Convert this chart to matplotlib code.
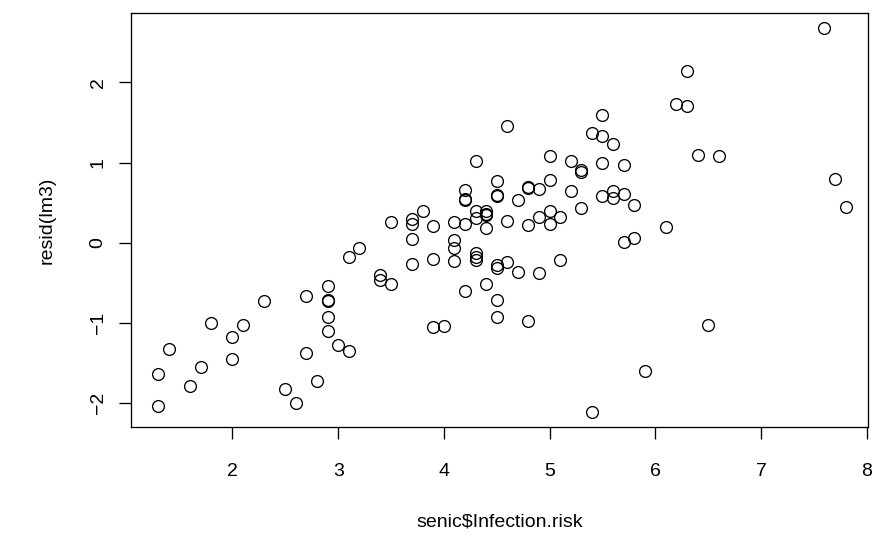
import numpy as np
import matplotlib
matplotlib.use("Agg")
import matplotlib.pyplot as plt

# senic$Infection.risk vs resid(lm3)
infection_risk = [
    1.3, 1.3, 1.4, 1.6, 1.7, 1.8, 2.0, 2.0, 2.1, 2.3,
    2.5, 2.6, 2.7, 2.7, 2.8, 2.9, 2.9, 2.9, 2.9, 2.9,
    3.0, 3.1, 3.1, 3.2, 3.4, 3.4, 3.5, 3.5,
    3.7, 3.7, 3.7, 3.7, 3.8, 3.9, 3.9, 3.9, 4.0,
    4.1, 4.1, 4.1, 4.1, 4.2, 4.2, 4.2, 4.2, 4.2,
    4.3, 4.3, 4.3, 4.3, 4.3, 4.3, 4.4, 4.4, 4.4, 4.4, 4.4,
    4.5, 4.5, 4.5, 4.5, 4.5, 4.5, 4.5, 4.6, 4.6, 4.6, 4.7, 4.7,
    4.8, 4.8, 4.8, 4.8, 4.9, 4.9, 4.9, 5.0, 5.0, 5.0, 5.0,
    5.1, 5.1, 5.2, 5.2, 5.3, 5.3, 5.3, 5.4, 5.4,
    5.5, 5.5, 5.5, 5.5, 5.6, 5.6, 5.6, 5.7, 5.7, 5.7, 5.8, 5.8,
    5.9, 6.1, 6.2, 6.3, 6.3, 6.4, 6.5, 6.6, 7.6, 7.7, 7.8,
]
resid_lm3 = [
    -1.64, -2.03, -1.32, -1.79, -1.55, -1.00, -1.18, -1.45, -1.02, -0.73,
    -1.83, -2.00, -0.66, -1.38, -1.73, -0.54, -0.71, -0.73, -0.93, -1.10,
    -1.27, -0.18, -1.35, -0.07, -0.40, -0.46, 0.26, -0.51,
    0.29, 0.24, 0.05, -0.27, 0.40, 0.21, -0.20, -1.05, -1.04,
    0.26, 0.03, -0.06, -0.23, 0.66, 0.55, 0.53, 0.23, -0.60,
    1.02, 0.39, 0.31, -0.13, -0.18, -0.22, 0.39, 0.36, 0.34, 0.18, -0.51,
    0.77, 0.60, 0.58, -0.28, -0.31, -0.72, -0.92, 1.46, 0.27, -0.24, 0.53, -0.36,
    0.70, 0.68, 0.22, -0.98, 0.67, 0.32, -0.38, 1.08, 0.78, 0.39, 0.24,
    0.32, -0.21, 1.02, 0.64, 0.91, 0.88, 0.43, 1.37, -2.11,
    1.59, 1.33, 0.99, 0.58, 1.23, 0.65, 0.56, 0.97, 0.61, 0.01, 0.47, 0.06,
    -1.60, 0.20, 1.73, 2.14, 1.70, 1.10, -1.02, 1.08, 2.68, 0.80, 0.45,
]

x_ticks = [2, 3, 4, 5, 6, 7, 8]
y_ticks = [-2, -1, 0, 1, 2]

plt.rcParams['font.family'] = ['Liberation Sans', 'DejaVu Sans']

fig = plt.figure(figsize=(8.73, 5.48), dpi=100)
ax = fig.add_axes([131 / 873, 120.7 / 548, 737 / 873, 414.8 / 548])

ax.plot(infection_risk, resid_lm3, linestyle='none', marker='o',
        markersize=8.5, markerfacecolor='none', markeredgecolor='black',
        markeredgewidth=0.95)

# rango como en R: 4% extra a cada lado
xr = max(infection_risk) - min(infection_risk)
yr = max(resid_lm3) - min(resid_lm3)
ax.set_xlim(min(infection_risk) - 0.04 * xr, min(infection_risk) - 0.04 * xr + 737 / 105.7)
ax.set_ylim(min(resid_lm3) - 0.04 * yr, max(resid_lm3) + 0.04 * yr)

ax.set_xticks(x_ticks)
ax.set_yticks(y_ticks)
ax.set_yticklabels([str(v).replace('-', '\u2212') for v in y_ticks])
ax.tick_params(axis='both', direction='out', length=8.5, width=0.95,
               labelsize=14, color='black')
ax.tick_params(axis='x', pad=17)
ax.tick_params(axis='y', pad=9, labelrotation=90)
for lab in ax.get_yticklabels():
    lab.set_va('center')

for s in ax.spines.values():
    s.set_linewidth(0.95)

ax.set_xlabel('senic$Infection.risk', fontsize=14, va='center')
ax.xaxis.set_label_coords(0.5, (26 - 120.7) / 414.8)
ax.set_ylabel('resid(lm3)', fontsize=14, va='center')
ax.yaxis.set_label_coords((47 - 131) / 737, 0.5)

fig.savefig('out.png', dpi=100)
